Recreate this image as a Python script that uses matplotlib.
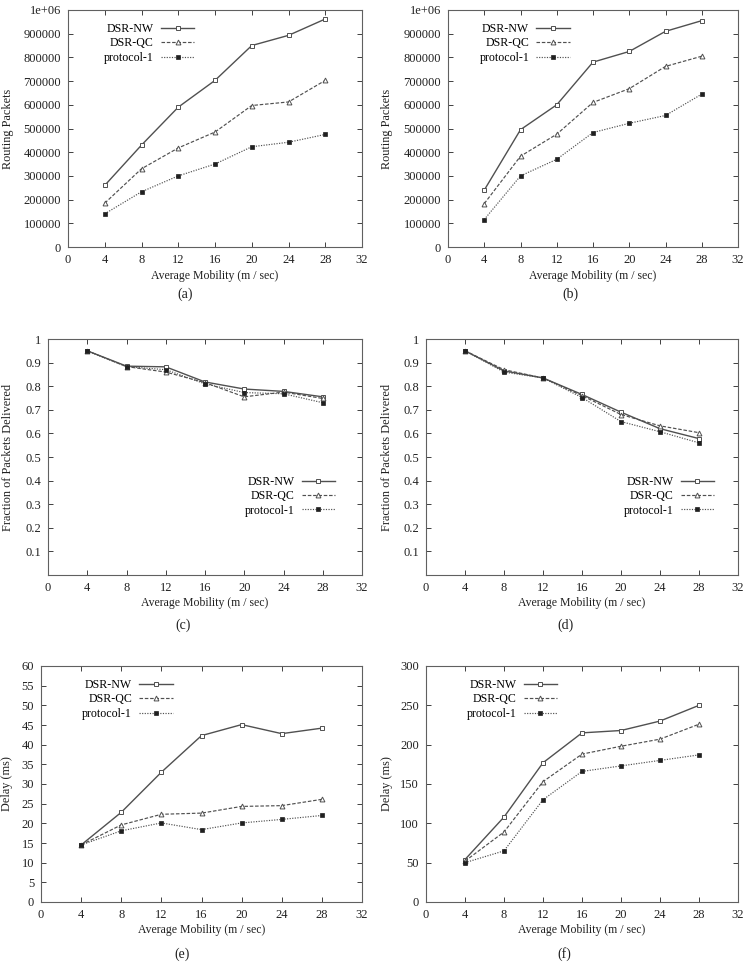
import matplotlib
matplotlib.use("Agg")
import matplotlib.pyplot as plt
from matplotlib.ticker import FixedLocator

plt.rcParams['font.family'] = ['Liberation Serif', 'DejaVu Serif']
plt.rcParams['font.size'] = 9

mobility = [4, 8, 12, 16, 20, 24, 28]
series_names = ["DSR-NW", "DSR-QC", "protocol-1"]

# (a) Routing packets
a_nw = [260000, 430000, 590000, 703000, 850000, 893000, 962000]
a_qc = [185000, 330000, 418000, 485000, 597000, 612000, 703000]
a_p1 = [140000, 233000, 300000, 350000, 423000, 442000, 475000]

# (b) Routing packets
b_nw = [240000, 495000, 600000, 780000, 825000, 910000, 955000]
b_qc = [183000, 383000, 476000, 610000, 668000, 762000, 805000]
b_p1 = [116000, 300000, 370000, 483000, 522000, 555000, 645000]

# (c) Fraction of packets delivered
c_nw = [0.950, 0.885, 0.882, 0.818, 0.788, 0.778, 0.755]
c_qc = [0.950, 0.883, 0.860, 0.815, 0.755, 0.775, 0.748]
c_p1 = [0.950, 0.883, 0.870, 0.810, 0.773, 0.768, 0.730]

# (d) Fraction of packets delivered
d_nw = [0.950, 0.865, 0.835, 0.765, 0.690, 0.620, 0.578]
d_qc = [0.950, 0.870, 0.835, 0.760, 0.680, 0.632, 0.603]
d_p1 = [0.950, 0.860, 0.835, 0.752, 0.650, 0.607, 0.560]

# (e) Delay
e_nw = [14.5, 22.8, 33.0, 42.3, 45.1, 42.8, 44.2]
e_qc = [14.5, 19.6, 22.3, 22.6, 24.3, 24.5, 26.1]
e_p1 = [14.5, 18.1, 20.1, 18.4, 20.1, 21.0, 22.0]

# (f) Delay
f_nw = [54, 108, 177, 215, 218, 230, 250]
f_qc = [52, 89, 153, 188, 198, 207, 226]
f_p1 = [50, 65, 130, 166, 173, 180, 187]

xticks = [0, 4, 8, 12, 16, 20, 24, 28, 32]
routing_yticks = [0, 100000, 200000, 300000, 400000, 500000, 600000, 700000, 800000, 900000, 1000000]
routing_ylabels = ["0", "100000", "200000", "300000", "400000", "500000", "600000", "700000", "800000", "900000", "1e+06"]
frac_yticks = [0.1, 0.2, 0.3, 0.4, 0.5, 0.6, 0.7, 0.8, 0.9, 1.0]
frac_ylabels = ["0.1", "0.2", "0.3", "0.4", "0.5", "0.6", "0.7", "0.8", "0.9", "1"]
e_yticks = [0, 5, 10, 15, 20, 25, 30, 35, 40, 45, 50, 55, 60]
f_yticks = [0, 50, 100, 150, 200, 250, 300]

W, H = 747, 964
fig = plt.figure(figsize=(W / 100, H / 100), dpi=100)

def add_ax(left, right, top, bottom):
    return fig.add_axes([left / W, (H - bottom) / H, (right - left) / W, (bottom - top) / H])

styles = [
    dict(color='#505050', lw=1.0, ls='-', marker='s', ms=3.5, mfc='white', mec='#505050', mew=0.7),
    dict(color='#505050', lw=0.85, ls=(0, (3, 1.5)), marker='^', ms=3.5, mfc='white', mec='#505050', mew=0.7),
    dict(color='#505050', lw=0.85, ls=(0, (1, 1.2)), marker='s', ms=2.6, mfc='#202020', mec='#202020', mew=0.5),
]

def panel(ax, ys, yticks, ylabels, ylim, ylabel, ylab_x, leg_anchor, caption, cap_x, cap_y):
    for y, name, st in zip(ys, series_names, styles):
        ax.plot(mobility, y, label=name, **st)
    ax.set_xlim(0, 32)
    ax.set_ylim(*ylim)
    ax.xaxis.set_major_locator(FixedLocator(xticks))
    ax.set_xticklabels([str(t) for t in xticks])
    ax.set_yticks(yticks)
    ax.set_yticklabels(ylabels)
    ax.tick_params(direction='in', length=3.5, width=0.7, top=True, right=True,
                   color='#404040', labelcolor='#202020', labelsize=9, pad=5)
    for sp in ax.spines.values():
        sp.set_color('#606060')
        sp.set_linewidth(0.8)
    ax.set_ylabel(ylabel, fontsize=8.8, color='#202020')
    ax.yaxis.label.set_va('center')
    ax.yaxis.set_label_coords(ylab_x, 0.5)
    ax.set_xlabel("Average Mobility (m / sec)", fontsize=8.5, color='#202020')
    ax.xaxis.set_label_coords(0.5, -0.095)
    ax.legend(loc='upper right', bbox_to_anchor=leg_anchor, frameon=False,
              markerfirst=False, handlelength=2.8, handletextpad=0.6,
              labelspacing=0.2, borderpad=0, borderaxespad=0, fontsize=8.6)
    fig.text(cap_x / W, 1 - cap_y / H, caption, ha='center', va='center', fontsize=10, color='#202020')

ax_a = add_ax(68, 362, 10, 247)
panel(ax_a, [a_nw, a_qc, a_p1], routing_yticks, routing_ylabels, (0, 1000000),
      "Routing Packets", -0.205, (0.43, 0.945), "(a)", 185, 294)

ax_b = add_ax(448, 738, 10, 247)
panel(ax_b, [b_nw, b_qc, b_p1], routing_yticks, routing_ylabels, (0, 1000000),
      "Routing Packets", -0.21, (0.42, 0.945), "(b)", 570, 294)

ax_c = add_ax(48, 362, 339, 575)
panel(ax_c, [c_nw, c_qc, c_p1], frac_yticks, frac_ylabels, (0, 1),
      "Fraction of Packets Delivered", -0.127, (0.914, 0.42), "(c)", 183, 625)

ax_d = add_ax(426, 738, 339, 575)
panel(ax_d, [d_nw, d_qc, d_p1], frac_yticks, frac_ylabels, (0, 1),
      "Fraction of Packets Delivered", -0.125, (0.923, 0.42), "(d)", 565, 625)

ax_e = add_ax(41, 362, 666, 902)
panel(ax_e, [e_nw, e_qc, e_p1], e_yticks, [str(t) for t in e_yticks], (0, 60),
      "Delay (ms)", -0.106, (0.41, 0.945), "(e)", 182, 954)

ax_f = add_ax(426, 738, 666, 902)
panel(ax_f, [f_nw, f_qc, f_p1], f_yticks, [str(t) for t in f_yticks], (0, 300),
      "Delay (ms)", -0.125, (0.42, 0.945), "(f)", 564, 954)

fig.savefig("out.png", dpi=100, facecolor='white')
